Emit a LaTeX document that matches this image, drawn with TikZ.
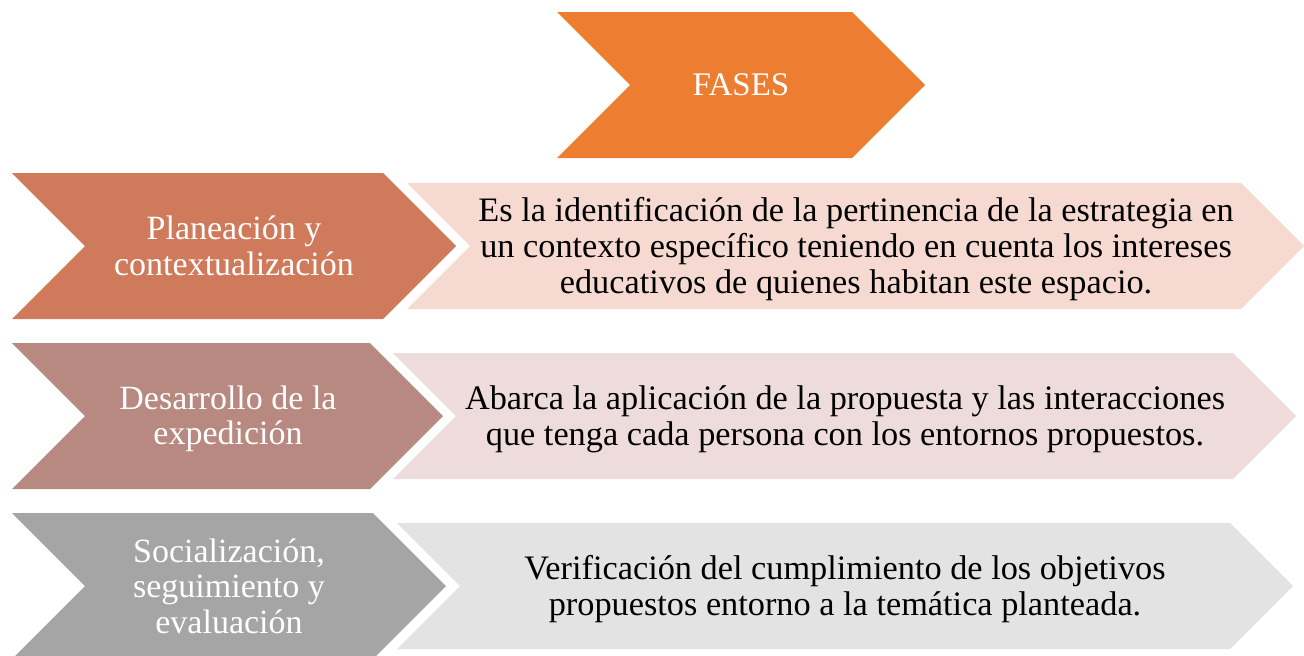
\documentclass[tikz,border=0pt]{standalone}
\usepackage{fontspec}
\setmainfont{Liberation Serif}
\definecolor{fasesc}{HTML}{ED7D31}
\definecolor{darka}{HTML}{D07A5C}
\definecolor{lighta}{HTML}{F6DAD2}
\definecolor{darkb}{HTML}{B88980}
\definecolor{lightb}{HTML}{EDDCDB}
\definecolor{darkc}{HTML}{A5A5A5}
\definecolor{lightc}{HTML}{E3E3E3}
\tikzset{
  dtext/.style={align=center,text=white,inner sep=0pt,font=\fontsize{34}{35.5}\selectfont},
  ltext/.style={align=center,text=black,inner sep=0pt,font=\fontsize{34.3}{36}\selectfont},
}
\begin{document}
\begin{tikzpicture}[x=1pt,y=-1pt]
\useasboundingbox (0,0) rectangle (1304,656);
% FASES
\fill[fasesc] (557,12) -- (852,12) -- (925,85) -- (852,158) -- (557,158) -- (630,85) -- cycle;
\node[dtext,font=\fontsize{33}{36}\selectfont] (fases) at (741,85) {FASES};
% Row 1
\fill[darka] (12,173) -- (383,173) -- (456,246) -- (383,319) -- (12,319) -- (85,246) -- cycle;
\fill[lighta] (407,183) -- (1241,183) -- (1304,246) -- (1241,309) -- (407,309) -- (470,246) -- cycle;
\node[dtext] (p1) at (234,246) {Planeación y\\contextualización};
\node[ltext] (d1) at (856,249) {Es la identificación de la pertinencia de la estrategia en\\un contexto específico teniendo en cuenta los intereses\\educativos de quienes habitan este espacio.};
% Row 2
\fill[darkb] (12,343) -- (370,343) -- (443,416) -- (370,489) -- (12,489) -- (85,416) -- cycle;
\fill[lightb] (393,353) -- (1233,353) -- (1296,416) -- (1233,479) -- (393,479) -- (456,416) -- cycle;
\node[dtext] (p2) at (228,419) {Desarrollo de la\\expedición};
\node[ltext] (d2) at (845,419) {Abarca la aplicación de la propuesta y las interacciones\\que tenga cada persona con los entornos propuestos.};
% Row 3
\fill[darkc] (12,513) -- (373,513) -- (446,586) -- (373,659) -- (12,659) -- (85,586) -- cycle;
\fill[lightc] (397,523) -- (1230,523) -- (1293,586) -- (1230,649) -- (397,649) -- (460,586) -- cycle;
\node[dtext] (p3) at (229,586) {Socialización,\\seguimiento y\\evaluación};
\node[ltext] (d3) at (845,589) {Verificación del cumplimiento de los objetivos\\propuestos entorno a la temática planteada.};
\end{tikzpicture}
\end{document}
